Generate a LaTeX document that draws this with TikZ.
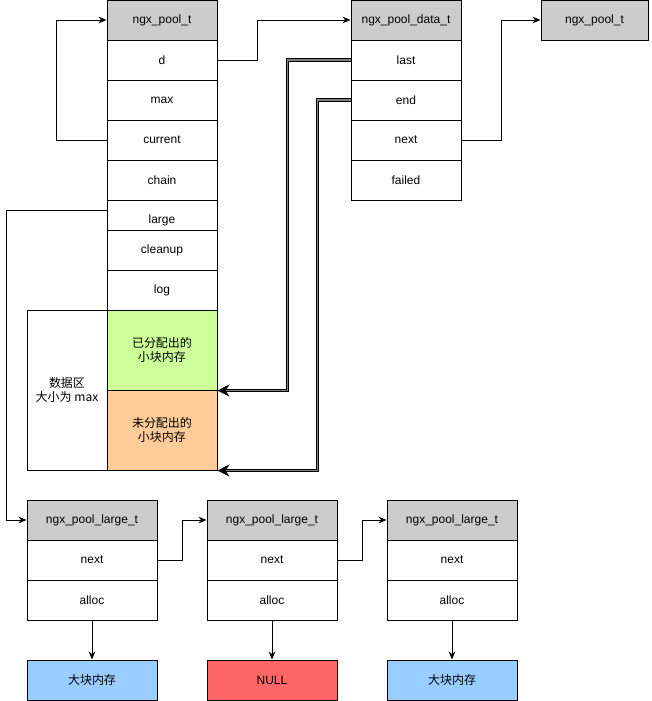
\documentclass[tikz,border=0pt]{standalone}
\usepackage{fontspec}
\setmainfont{Liberation Sans}
\newfontfamily\cjk{Noto Sans CJK SC}
\usetikzlibrary{arrows.meta}
\definecolor{hdrgray}{HTML}{CCCCCC}
\definecolor{usedgreen}{HTML}{CCFF99}
\definecolor{freeorange}{HTML}{FFCC99}
\definecolor{memblue}{HTML}{99CCFF}
\definecolor{nullred}{HTML}{FF6666}
\begin{document}
\begin{tikzpicture}[x=0.75pt,y=-0.75pt,
  font=\fontsize{9}{11}\selectfont,
  cell/.style={draw, line width=0.75pt, inner sep=0pt, align=center,
    minimum width=82.5pt, minimum height=30pt, fill=white},
  hdr/.style={cell, fill=hdrgray},
  wide/.style={minimum width=97.5pt},
  arr/.style={draw, line width=0.75pt, -{Stealth[length=6pt,width=5pt]}},
  dbl/.style={draw, line width=0.75pt, double=gray, double distance=1.4pt,
    -{Stealth[length=9pt,width=9pt]}}]
\useasboundingbox (0,0) rectangle (652,701);

% ngx_pool_t
\node[hdr] (p0) at (162,20) {ngx\_pool\_t};
\node[cell] (pd) at (162,60) {d};
\node[cell] (pmax) at (162,100) {max};
\node[cell] (pcur) at (162,140) {current};
\node[cell] (pchain) at (162,180) {chain};
\node[cell] (plarge) at (162,220) {large};
\node[cell] (pclean) at (162,250) {cleanup};
\node[cell] (plog) at (162,290) {log};
\node[cell, fill=usedgreen, minimum height=60pt] (used) at (162,350) {\cjk 已分配出的\\\cjk 小块内存};
\node[cell, fill=freeorange, minimum height=60pt] (free) at (162,430) {\cjk 未分配出的\\\cjk 小块内存};
\node[cell, minimum width=60pt, minimum height=120pt] (area) at (67,390) {\cjk 数据区\\\cjk 大小为 max};

% ngx_pool_data_t
\node[hdr] (dh) at (406,20) {ngx\_pool\_data\_t};
\node[cell] (dlast) at (406,60) {last};
\node[cell] (dend) at (406,100) {end};
\node[cell] (dnext) at (406,140) {next};
\node[cell] (dfail) at (406,180) {failed};

% next pool
\node[hdr, minimum width=80.25pt] (rp) at (594.5,20) {ngx\_pool\_t};

% ngx_pool_large_t chain
\foreach \i/\cx in {1/92,2/272,3/452}{
  \node[hdr, wide] (l\i h) at (\cx,520) {ngx\_pool\_large\_t};
  \node[cell, wide] (l\i n) at (\cx,560) {next};
  \node[cell, wide] (l\i a) at (\cx,600) {alloc};
}
\node[cell, wide, fill=memblue] (m1) at (92,680) {\cjk 大块内存};
\node[cell, wide, fill=nullred] (m2) at (272,680) {NULL};
\node[cell, wide, fill=memblue] (m3) at (452,680) {\cjk 大块内存};

% connectors
\draw[arr] (pcur.west) -- ++(-50,0) |- (p0.west);
\draw[arr] (pd.east) -- ++(40,0) |- (dh.west);
\draw[arr] (dnext.east) -- ++(40,0) |- (rp.west);
\draw[arr] ([yshift=7.5pt]plarge.west) -- ++(-100,0) |- (l1h.west);
\draw[arr] (l1n.east) -- ++(25,0) |- (l2h.west);
\draw[arr] (l2n.east) -- ++(25,0) |- (l3h.west);
\draw[arr] (l1a.south) -- (m1.north);
\draw[arr] (l2a.south) -- (m2.north);
\draw[arr] (l3a.south) -- (m3.north);
\draw[dbl] (dlast.west) -- ++(-63,0) |- (used.south east);
\draw[dbl] (dend.west) -- ++(-33,0) |- (free.south east);
\end{tikzpicture}
\end{document}
